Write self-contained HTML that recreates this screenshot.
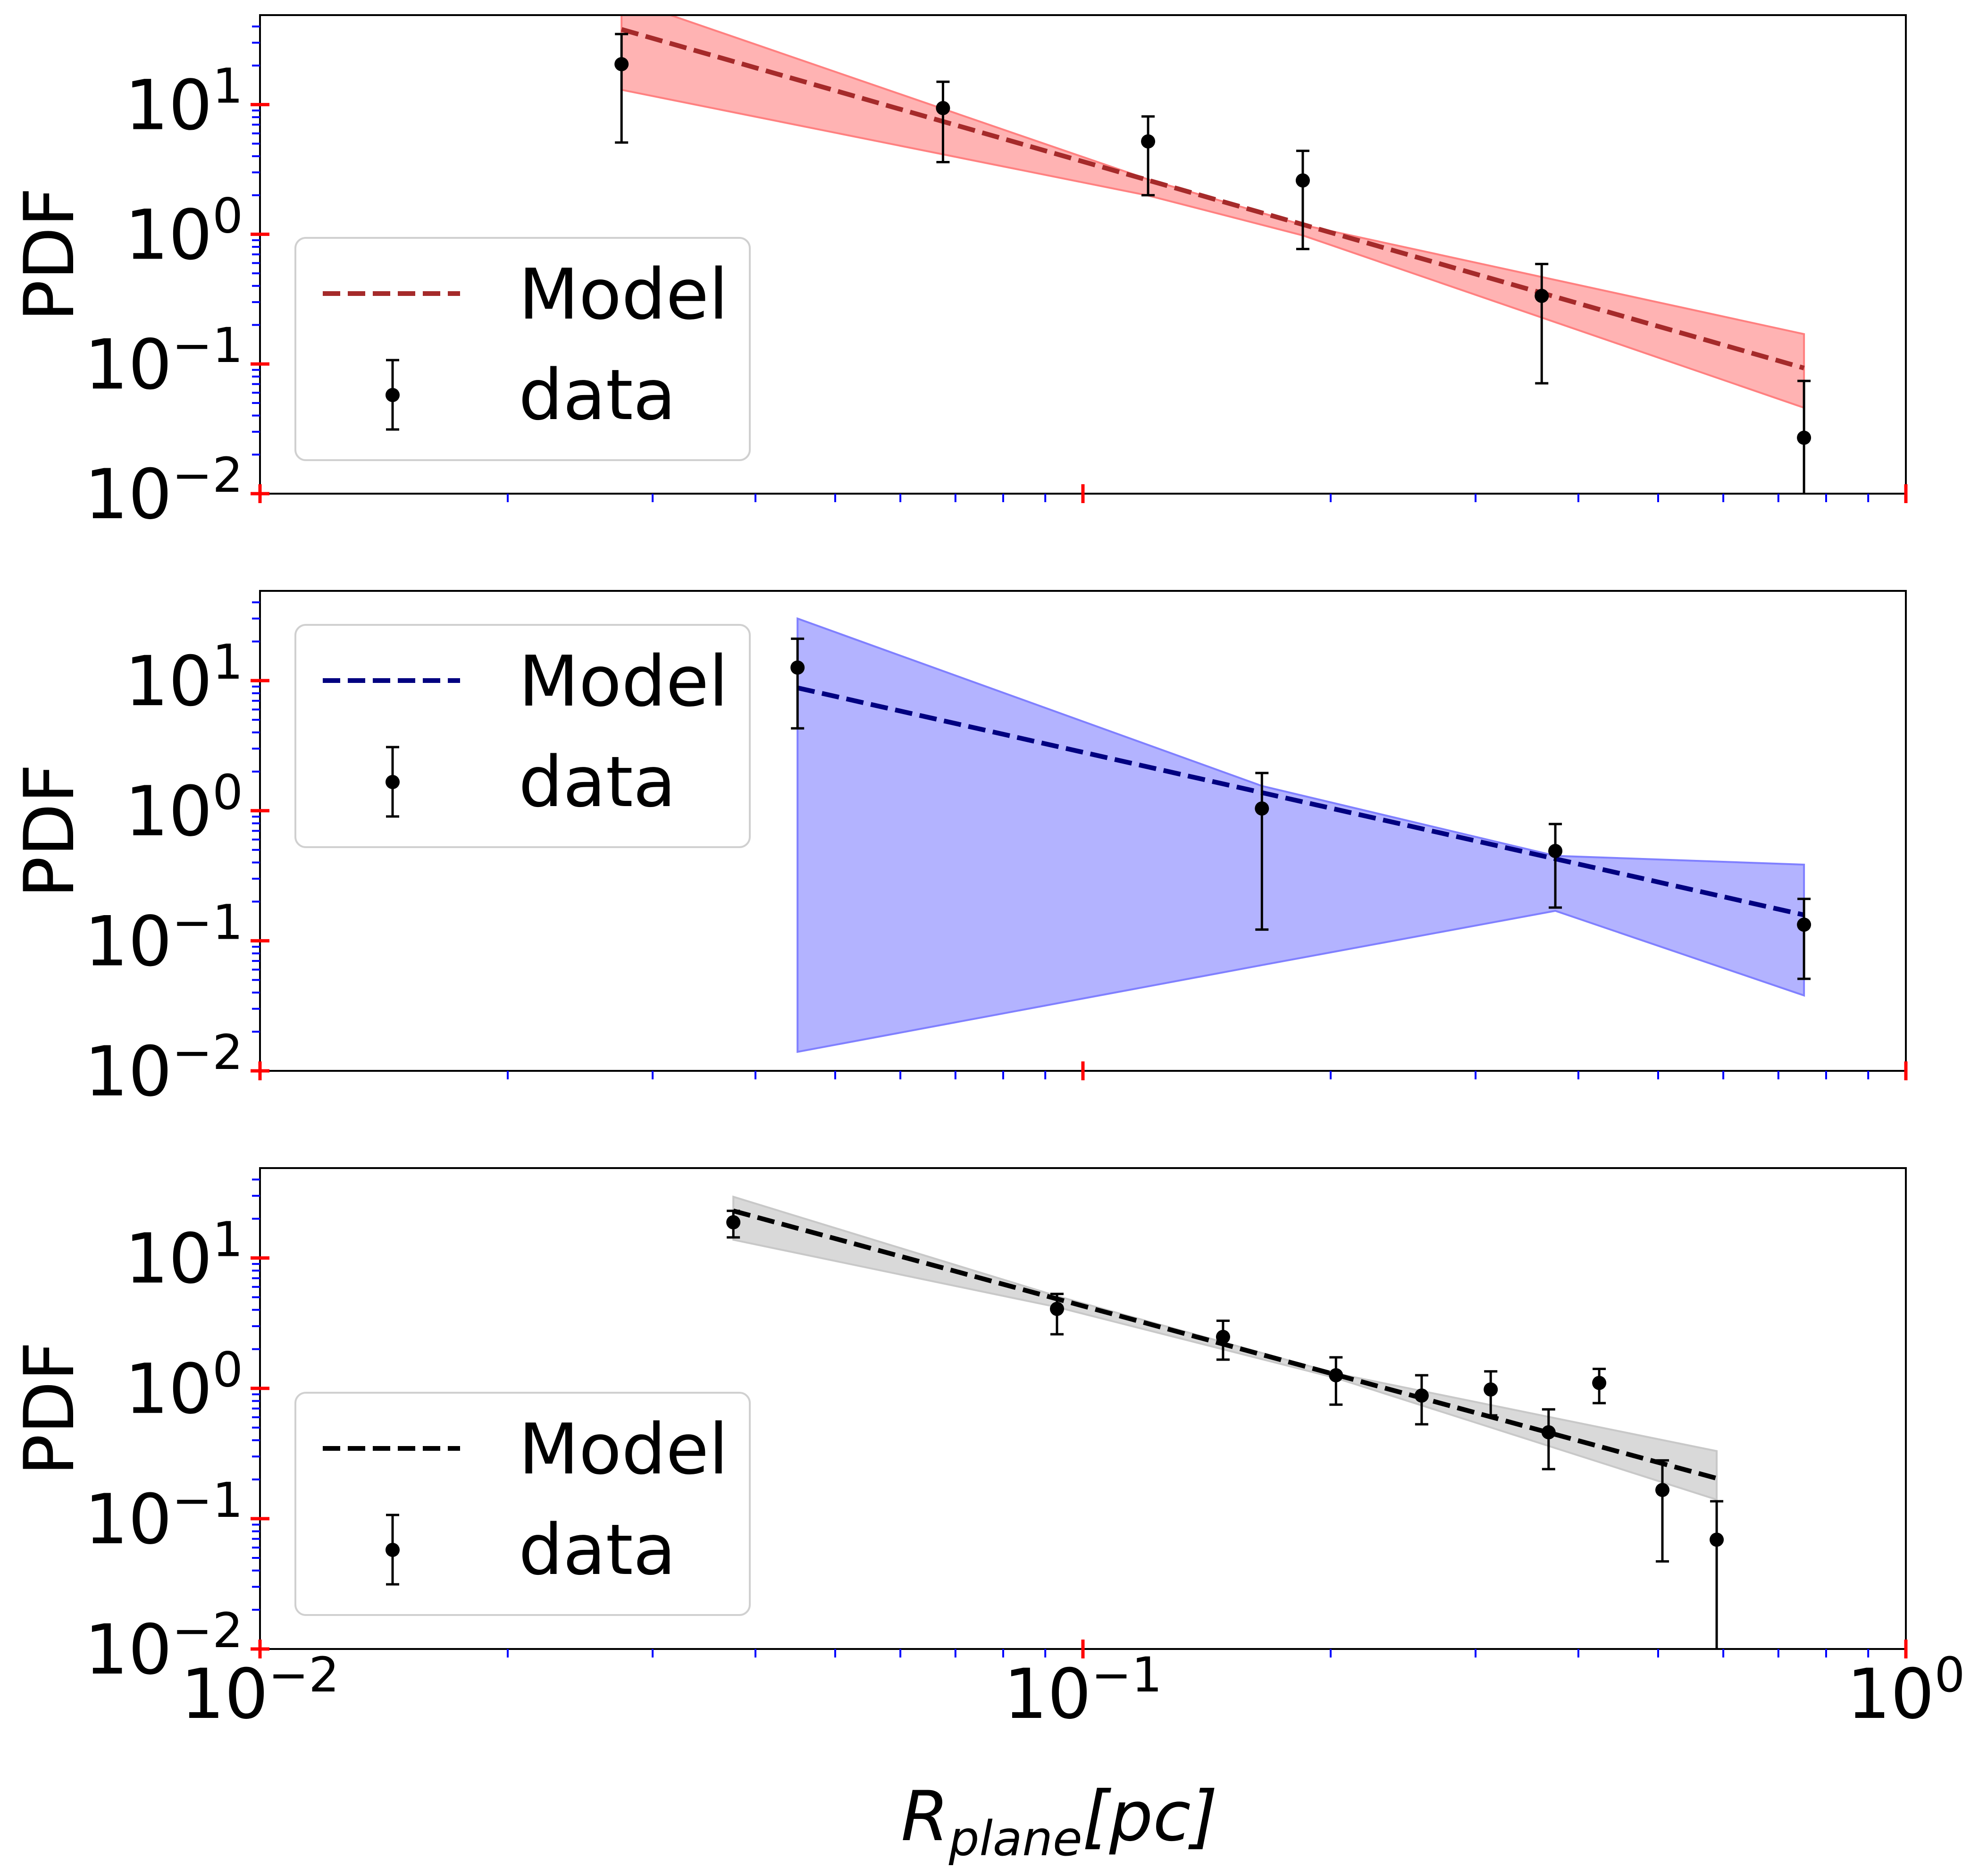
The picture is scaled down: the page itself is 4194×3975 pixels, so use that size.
<!DOCTYPE html>
<html><head><meta charset="utf-8"><style>html,body{margin:0;padding:0;background:#fff}svg{display:block}</style></head>
<body>
<svg id="fig" xmlns="http://www.w3.org/2000/svg" width="4194" height="3975" viewBox="0 0 4194 3975" font-family="DejaVu Sans, Liberation Sans, sans-serif"></svg>
<script>
// ---- data ----
const p1X=[0.0275,0.0676,0.120,0.185,0.361,0.752];
const p1Y=[20.5,9.4,5.2,2.6,0.335,0.027];
const p1Up=[35,15,8.1,4.4,0.59,0.074];
const p1Dn=[5.1,3.6,2.0,0.77,0.071,0.0005];
const p1ModelX=[0.0275,0.752];
const p1ModelY=[38,0.093];
const p1BandX=[0.0275,0.120,0.185,0.752];
const p1BandUp=[66,2.65,1.18,0.17];
const p1BandLo=[13,1.99,0.98,0.046];

const p2X=[0.045,0.165,0.375,0.752];
const p2Y=[12.6,1.04,0.49,0.133];
const p2Up=[21,1.95,0.79,0.21];
const p2Dn=[4.3,0.122,0.18,0.051];
const p2ModelX=[0.045,0.752];
const p2ModelY=[8.8,0.158];
const p2BandX=[0.045,0.165,0.375,0.752];
const p2BandUp=[30,1.55,0.45,0.385];
const p2BandLo=[0.014,0.065,0.17,0.038];

const p3X=[0.0376,0.093,0.148,0.203,0.258,0.313,0.368,0.424,0.506,0.589];
const p3Y=[18.8,4.07,2.48,1.26,0.88,0.98,0.46,1.1,0.166,0.069];
const p3Up=[23,5.3,3.3,1.73,1.26,1.35,0.69,1.41,0.28,0.136];
const p3Dn=[14.4,2.6,1.66,0.75,0.53,0.62,0.24,0.77,0.047,0.0005];
const p3ModelX=[0.0376,0.589];
const p3ModelY=[23,0.204];
const p3BandX=[0.0376,0.093,0.203,0.589];
const p3BandUp=[29.5,5.1,1.3,0.33];
const p3BandLo=[13.8,4.2,1.2,0.14];

const yTickExp=[-2,-1,0,1];
const xTickExp=[-2,-1,0];
const xTickLabels=['10','10','10'];

// ---- layout ----
const NS='http://www.w3.org/2000/svg';
const svg=document.getElementById('fig');
const XL=551, XR=4039, XMIN=-2, XMAX=0;
const YMIN=-2, YMAX=1.69;
const panels=[
 {top:32,bot:1046,X:p1X,Y:p1Y,U:p1Up,D:p1Dn,mx:p1ModelX,my:p1ModelY,bx:p1BandX,bu:p1BandUp,bl:p1BandLo,fill:'#ffb3b3',edge:'#ff8080',line:'#a52a2a',legTop:504,name:'top'},
 {top:1252,bot:2269,X:p2X,Y:p2Y,U:p2Up,D:p2Dn,mx:p2ModelX,my:p2ModelY,bx:p2BandX,bu:p2BandUp,bl:p2BandLo,fill:'#b3b3ff',edge:'#8080ff',line:'#000080',legTop:1324,name:'middle'},
 {top:2475,bot:3494,X:p3X,Y:p3Y,U:p3Up,D:p3Dn,mx:p3ModelX,my:p3ModelY,bx:p3BandX,bu:p3BandUp,bl:p3BandLo,fill:'#d9d9d9',edge:'#c8c8c8',line:'#000000',legTop:2951,name:'bottom'}
];
function xs(v){return XL+(Math.log10(v)-XMIN)/(XMAX-XMIN)*(XR-XL);}
function mk(tag,attrs,parent){const e=document.createElementNS(NS,tag);for(const k in attrs)e.setAttribute(k,attrs[k]);(parent||svg).appendChild(e);return e;}

panels.forEach((p,pi)=>{
  const ys=v=>p.bot-(Math.log10(v)-YMIN)/(YMAX-YMIN)*(p.bot-p.top);
  const g=mk('g',{});
  
  
  const cid='clip'+pi;
  const cp=mk('clipPath',{id:cid},g);
  mk('rect',{x:XL,y:p.top,width:XR-XL,height:p.bot-p.top},cp);
  const plot=mk('g',{'clip-path':'url(#'+cid+')'},g);
  // band
  let pts=[];
  for(let i=0;i<p.bx.length;i++)pts.push(xs(p.bx[i])+','+ys(p.bu[i]));
  for(let i=p.bx.length-1;i>=0;i--)pts.push(xs(p.bx[i])+','+ys(p.bl[i]));
  const band=mk('polygon',{points:pts.join(' '),fill:p.fill,stroke:p.edge,'stroke-width':4},plot);
  
  
  // model
  const ml=mk('line',{x1:xs(p.mx[0]),y1:ys(p.my[0]),x2:xs(p.mx[1]),y2:ys(p.my[1]),stroke:p.line,'stroke-width':10,'stroke-dasharray':'37 16'},plot);
  
  
  // data
  for(let i=0;i<p.X.length;i++){
    const x=xs(p.X[i]);
    const eg=mk('g',{},plot);
    
    
    mk('line',{x1:x,y1:ys(p.U[i]),x2:x,y2:ys(p.D[i]),stroke:'#000','stroke-width':5},eg);
    mk('line',{x1:x-14,y1:ys(p.U[i]),x2:x+14,y2:ys(p.U[i]),stroke:'#000','stroke-width':5},eg);
    mk('line',{x1:x-14,y1:ys(p.D[i]),x2:x+14,y2:ys(p.D[i]),stroke:'#000','stroke-width':5},eg);
    mk('circle',{cx:x,cy:ys(p.Y[i]),r:15,fill:'#000'},eg);
  }
  // frame
  const fr=mk('rect',{x:XL,y:p.top,width:XR-XL,height:p.bot-p.top,fill:'none',stroke:'#000','stroke-width':4},g);
  
  
  // y minor ticks
  for(let e=YMIN;e<2;e++){for(let m=2;m<10;m++){const v=m*Math.pow(10,e);if(Math.log10(v)>YMAX)break;const y=ys(v);
    mk('line',{x1:XL-17,y1:y,x2:XL,y2:y,stroke:'#0000ff','stroke-width':4},g);}}
  // x minor ticks
  for(let e=XMIN;e<XMAX;e++){for(let m=2;m<10;m++){const x=xs(m*Math.pow(10,e));
    mk('line',{x1:x,y1:p.bot,x2:x,y2:p.bot+18,stroke:'#0000ff','stroke-width':4},g);}}
  // y major ticks and labels
  yTickExp.forEach(e=>{const y=ys(Math.pow(10,e));
    mk('line',{x1:XL-20,y1:y,x2:XL+20,y2:y,stroke:'#ff0000','stroke-width':7},g);
    const t=mk('text',{x:515,y:y+52,'text-anchor':'end','font-size':146,fill:'#000'},g);
    
    
    t.appendChild(document.createTextNode('10'));
    const s=mk('tspan',{dy:-56,'font-size':102},t);s.textContent=(e<0?'\u2212':'')+Math.abs(e);
  });
  xTickExp.forEach(e=>{const x=xs(Math.pow(10,e));
    mk('line',{x1:x,y1:p.bot-20,x2:x,y2:p.bot+20,stroke:'#ff0000','stroke-width':7},g);});
  // y label
  const yl=mk('text',{transform:'translate(155,'+((p.top+p.bot)/2)+') rotate(-90)','text-anchor':'middle','font-size':146,fill:'#000'},g);
  
  
  yl.textContent='PDF';
  // legend
  const L=p.legTop;
  const lg=mk('g',{},g);
  
  
  mk('rect',{x:626,y:L,width:963,height:471,rx:22,fill:'#fff','fill-opacity':0.8,stroke:'#d0d0d0','stroke-width':4},lg);
  mk('line',{x1:684,y1:L+118,x2:975,y2:L+118,stroke:p.line,'stroke-width':10,'stroke-dasharray':'37 16'},lg);
  mk('line',{x1:832,y1:L+259,x2:832,y2:L+406,stroke:'#000','stroke-width':5},lg);
  mk('line',{x1:818,y1:L+259,x2:846,y2:L+259,stroke:'#000','stroke-width':5},lg);
  mk('line',{x1:818,y1:L+406,x2:846,y2:L+406,stroke:'#000','stroke-width':5},lg);
  mk('circle',{cx:832,cy:L+333,r:15,fill:'#000'},lg);
  const t1=mk('text',{x:1099,y:L+171,'font-size':148,fill:'#000'},lg);t1.textContent='Model';
  
  
  const t2=mk('text',{x:1099,y:L+384,'font-size':148,fill:'#000'},lg);t2.textContent='data';
  
  
});
// x tick labels
xTickExp.forEach((e,i)=>{const x=xs(Math.pow(10,e));
  const t=mk('text',{x:x,y:3640,'text-anchor':'middle','font-size':146,fill:'#000'});
  
  
  t.appendChild(document.createTextNode(xTickLabels[i]));
  const s=mk('tspan',{dy:-56,'font-size':102},t);s.textContent=(e<0?'\u2212':'')+Math.abs(e);
});
// x label
const xl=mk('text',{x:2245,y:3899,'text-anchor':'middle','font-size':146,'font-style':'italic',fill:'#000'});


xl.appendChild(document.createTextNode('R'));
const sub=mk('tspan',{dy:32,'font-size':102},xl);sub.textContent='plane';
const rest=mk('tspan',{dy:-32},xl);rest.textContent='[pc]';
</script>
</body></html>
